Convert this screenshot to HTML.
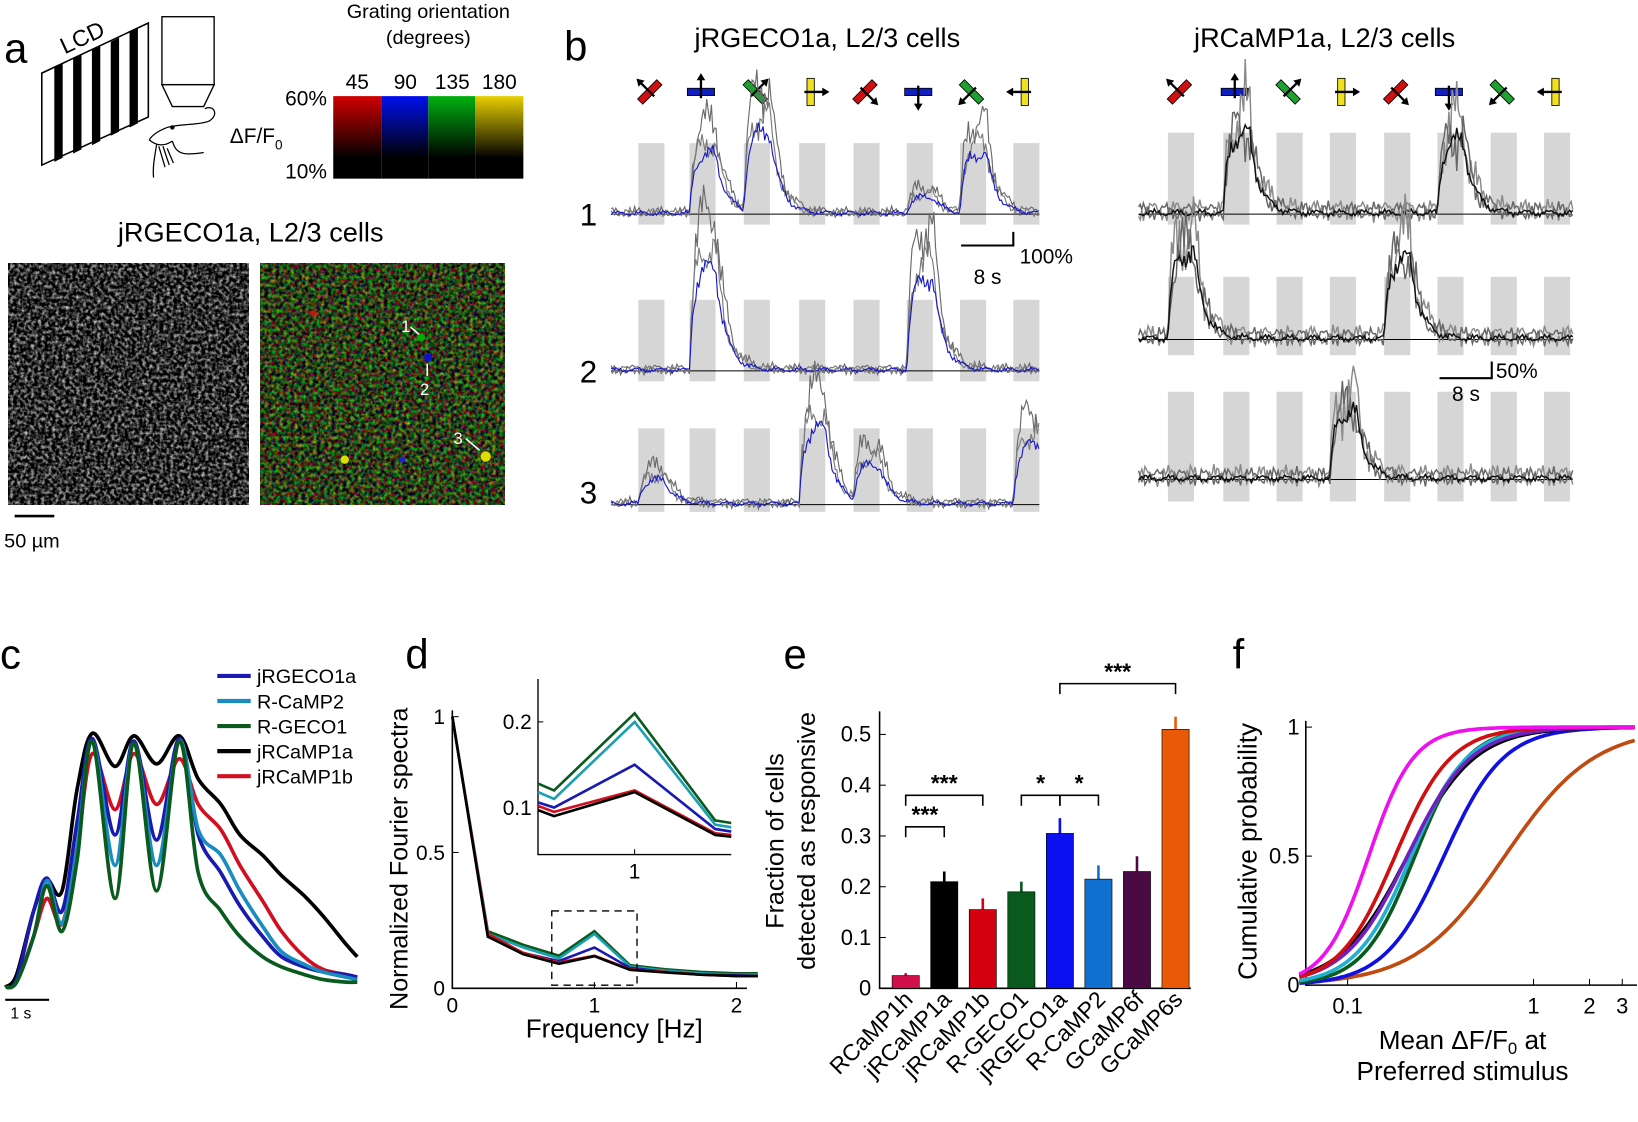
<!DOCTYPE html>
<html><head><meta charset="utf-8">
<style>
html,body{margin:0;padding:0;background:#fff;}
svg{display:block;font-family:"Liberation Sans",Arial,sans-serif;}
</style></head>
<body>
<svg id="fig" width="1638" height="1122" viewBox="0 0 1568 1074" preserveAspectRatio="none" xmlns="http://www.w3.org/2000/svg">
<defs>
<filter id="grayimg" x="0" y="0" width="100%" height="100%" color-interpolation-filters="sRGB">
<feTurbulence type="fractalNoise" baseFrequency="0.3" numOctaves="2" seed="3"/>
<feColorMatrix type="matrix" values="1.6 0 0 0 -0.62  1.6 0 0 0 -0.62  1.6 0 0 0 -0.62  0 0 0 0 1"/>
</filter>
<filter id="colimg" x="0" y="0" width="100%" height="100%" color-interpolation-filters="sRGB">
<feTurbulence type="fractalNoise" baseFrequency="0.28" numOctaves="2" seed="7"/>
<feColorMatrix type="matrix" values="1.5 0 0 0 -0.58  0 1.5 0 0 -0.5  0 0 0.6 0 -0.2  0 0 0 0 1"/>
</filter>
<linearGradient id="gr" x1="0" y1="0" x2="0" y2="1"><stop offset="0" stop-color="#d00000"/><stop offset="0.75" stop-color="#000"/></linearGradient>
<linearGradient id="gb" x1="0" y1="0" x2="0" y2="1"><stop offset="0" stop-color="#0010ee"/><stop offset="0.75" stop-color="#000"/></linearGradient>
<linearGradient id="gg" x1="0" y1="0" x2="0" y2="1"><stop offset="0" stop-color="#00b010"/><stop offset="0.75" stop-color="#000"/></linearGradient>
<linearGradient id="gy" x1="0" y1="0" x2="0" y2="1"><stop offset="0" stop-color="#e8d000"/><stop offset="0.75" stop-color="#000"/></linearGradient>
</defs>

<!-- Panel a -->
<g>
<text x="4" y="60" font-size="40">a</text>
<g>
<polygon points="40,70 142,22 142,112 40,158" fill="#fff" stroke="#000" stroke-width="1.5"/>
<g fill="#000">
<polygon points="52,65 60,61 60,151 52,155"/><polygon points="70,56 78,52 78,143 70,147"/>
<polygon points="88,48 96,44 96,135 88,139"/><polygon points="106,40 114,36 114,126 106,130"/>
<polygon points="124,31 132,27 132,118 124,122"/>
</g>
<text x="62" y="52" font-size="22" transform="rotate(-25 62 52)">LCD</text>
</g>
<g fill="none" stroke="#000" stroke-width="1.3">
<rect x="155" y="16" width="50" height="65"/><polygon points="155,81 205,81 195,102 165,102"/>
</g>
<g fill="none" stroke="#000" stroke-width="1.2">
<path d="M196,104 C205,100 210,110 200,116 C190,120 175,118 160,122 C150,126 145,130 143,134 C150,140 158,140 165,135"/>
<path d="M150,138 C148,150 146,160 147,170 M165,135 C168,145 172,150 195,146"/>
<path d="M152,140 L158,160 M156,140 L162,158 M160,142 L166,156"/>
<circle cx="165" cy="122" r="1.5" fill="#000"/>
</g>
<g>
<rect x="319" y="92" width="46" height="79" fill="url(#gr)"/>
<rect x="365" y="92" width="45" height="79" fill="url(#gb)"/>
<rect x="410" y="92" width="45" height="79" fill="url(#gg)"/>
<rect x="455" y="92" width="46" height="79" fill="url(#gy)"/>
</g>
<text x="410" y="17" font-size="19" text-anchor="middle">Grating orientation</text>
<text x="410" y="42" font-size="19" text-anchor="middle">(degrees)</text>
<g font-size="20" text-anchor="middle">
<text x="342" y="85">45</text><text x="388" y="85">90</text><text x="433" y="85">135</text><text x="478" y="85">180</text>
</g>
<text x="313" y="101" font-size="20" text-anchor="end">60%</text>
<text x="313" y="171" font-size="20" text-anchor="end">10%</text>
<text x="220" y="137" font-size="20">ΔF/F<tspan font-size="13" dy="6">0</tspan></text>
<text x="240" y="231" font-size="26" text-anchor="middle">jRGECO1a, L2/3 cells</text>
<g><rect x="8" y="252" width="230" height="231" fill="#111" filter="url(#grayimg)"/></g>
<g><rect x="249" y="252" width="234" height="231" fill="#121" filter="url(#colimg)"/>
<circle cx="403" cy="323" r="4" fill="#0a0"/><circle cx="410" cy="342" r="4" fill="#11c"/><circle cx="465" cy="437" r="5" fill="#dd0"/>
<circle cx="330" cy="440" r="4" fill="#dd0"/><circle cx="385" cy="440" r="3" fill="#22c"/><circle cx="300" cy="300" r="3" fill="#c11"/></g>
<g fill="#fff" font-size="16">
<text x="384" y="318">1</text><text x="402" y="378">2</text><text x="434" y="425">3</text>
</g>
<g stroke="#fff" stroke-width="1.5"><line x1="393" y1="313" x2="401" y2="320"/><line x1="409" y1="360" x2="409" y2="348"/><line x1="446" y1="420" x2="459" y2="431"/></g>
<line x1="14" y1="494" x2="52" y2="494" stroke="#000" stroke-width="2.5"/>
<text x="4" y="524" font-size="19">50 µm</text>
</g>

<!-- Panel b -->
<g id="panelB">
<text x="540" y="58" font-size="40">b</text>
<text x="792" y="45" font-size="26" text-anchor="middle">jRGECO1a, L2/3 cells</text>
<text x="1268" y="45" font-size="26" text-anchor="middle">jRCaMP1a, L2/3 cells</text>
<g font-size="30"><text x="555" y="216">1</text><text x="555" y="366">2</text><text x="555" y="482">3</text></g>
</g>

<!-- Panel c -->
<g id="panelC">
<text x="0" y="640" font-size="40">c</text>
<line x1="5" y1="957" x2="47" y2="957" stroke="#000" stroke-width="2"/>
<text x="10" y="975" font-size="15">1 s</text>
</g>

<!-- Panel d -->
<g id="panelD">
<text x="388" y="640" font-size="40">d</text>
<text font-size="24" text-anchor="middle" transform="translate(390 822) rotate(-90)">Normalized Fourier spectra</text>
<text x="588" y="993" font-size="25" text-anchor="middle">Frequency [Hz]</text>
</g>

<!-- Panel e -->
<g id="panelE">
<text x="750" y="640" font-size="40">e</text>
<text font-size="24" text-anchor="middle" transform="translate(750 805) rotate(-90)">Fraction of cells</text>
<text font-size="24" text-anchor="middle" transform="translate(780 805) rotate(-90)">detected as responsive</text>
</g>

<!-- Panel f -->
<g id="panelF">
<text x="1180" y="640" font-size="40">f</text>
<text font-size="25" text-anchor="middle" transform="translate(1203 815) rotate(-90)">Cumulative probability</text>
<text x="1400" y="1004" font-size="25" text-anchor="middle">Mean ΔF/F<tspan font-size="16" dy="5">0</tspan><tspan dy="-5"> at</tspan></text>
<text x="1400" y="1034" font-size="25" text-anchor="middle">Preferred stimulus</text>
</g>
</svg>

<script>
// ---------- DATA ----------
const stimColors = ['#d01010','#1020c0','#20a030','#f0e020','#d01010','#1020c0','#20a030','#f0e020'];
const stimArrowAngles = [-135,-90,-45,0,45,90,135,180];
const leftCell1 = [0,0.55,0.75,0,0,0.15,0.55,0];
const leftCell2 = [0,0.95,0,0,0,0.85,0,0];
const leftCell3 = [0.22,0,0,0.7,0.35,0,0,0.55];
const rightCell1 = [0,1.2,0,0,0,1.1,0,0];
const rightCell2 = [1.3,0,0,0,1.2,0,0,0];
const rightCell3 = [0,0,0,1.0,0,0,0,0];
// panel c
const cTimes = [0,0.3,0.75,1.1,1.5,1.9,2.3,2.9,3.4,4.0,4.6,5.1,5.7,6.2,6.8,7.3,7.9,8.4,9.0,9.3];
const cNames = ['jRGECO1a','R-CaMP2','R-GECO1','jRCaMP1a','jRCaMP1b'];
const cColors = ['#1a1ab0','#1a8cc0','#0a5a1e','#000000','#d01020'];
const cBlue  = [0,0.03,0.3,0.43,0.3,0.65,0.98,0.6,0.97,0.58,0.98,0.6,0.45,0.32,0.2,0.12,0.08,0.06,0.05,0.04];
const cTeal  = [0,0.02,0.2,0.42,0.25,0.55,0.97,0.48,0.96,0.48,0.97,0.62,0.52,0.38,0.24,0.14,0.09,0.06,0.04,0.03];
const cGreen = [0,0.02,0.2,0.4,0.22,0.5,0.97,0.35,0.96,0.38,0.97,0.45,0.3,0.2,0.12,0.08,0.05,0.03,0.02,0.02];
const cBlack = [0,0.05,0.3,0.42,0.38,0.78,1.0,0.87,0.99,0.88,0.99,0.82,0.72,0.6,0.52,0.44,0.36,0.28,0.17,0.12];
const cRed   = [0,0.02,0.2,0.35,0.25,0.55,0.92,0.7,0.92,0.72,0.9,0.72,0.62,0.48,0.34,0.22,0.12,0.07,0.05,0.04];
// panel d
const dFreq = [0,0.25,0.5,0.75,1.0,1.25,1.5,1.75,2.0,2.15];
const dGreen = [1,0.21,0.16,0.12,0.21,0.085,0.07,0.06,0.055,0.055];
const dTeal  = [1,0.2,0.15,0.11,0.20,0.08,0.065,0.055,0.05,0.05];
const dBlue  = [1,0.19,0.13,0.10,0.15,0.075,0.06,0.05,0.048,0.045];
const dRed   = [1,0.2,0.13,0.095,0.12,0.07,0.06,0.05,0.045,0.045];
const dBlack = [1,0.19,0.125,0.09,0.118,0.068,0.058,0.05,0.045,0.045];
const dColors = ['#0a5a1e','#1aa0b0','#1a1ab0','#d01020','#000000'];
const dXTicks = [0,1,2];
const dYTicks = [0,0.5,1];
const dInsetYTicks = [0.1,0.2];
// panel e
const eNames = ['RCaMP1h','jRCaMP1a','jRCaMP1b','R-GECO1','jRGECO1a','R-CaMP2','GCaMP6f','GCaMP6s'];
const eValues = [0.025,0.21,0.155,0.19,0.305,0.215,0.23,0.51];
const eErrors = [0.005,0.02,0.022,0.02,0.03,0.027,0.03,0.025];
const eColors = ['#d0104a','#000000','#d40010','#0a5a1e','#0a10f0','#1070d0','#4a0a44','#e85a08'];
const eYTicks = [0,0.1,0.2,0.3,0.4,0.5];
// panel f
const fMedians = [0.13,0.18,0.21,0.22,0.23,0.21,0.33,0.7];
const fSpreads = [0.12,0.15,0.17,0.15,0.14,0.18,0.16,0.24];
const fColors = ['#ee10ee','#d01010','#7020c0','#20b0d0','#0a5a1e','#000000','#1010e0','#c04a10'];
const fXTicks = [0.1,1,2,3];
const fYTicks = [0,0.5,1];

// ---------- HELPERS ----------
const NS='http://www.w3.org/2000/svg';
function mk(tag,attrs,parent){const e=document.createElementNS(NS,tag);for(const k in attrs)e.setAttribute(k,attrs[k]);parent.appendChild(e);return e;}
function smooth(pts){let d='M'+pts[0][0]+','+pts[0][1];for(let i=0;i<pts.length-1;i++){const p0=pts[Math.max(0,i-1)],p1=pts[i],p2=pts[i+1],p3=pts[Math.min(pts.length-1,i+2)];const c1=[p1[0]+(p2[0]-p0[0])/6,p1[1]+(p2[1]-p0[1])/6],c2=[p2[0]-(p3[0]-p1[0])/6,p2[1]-(p3[1]-p1[1])/6];d+=' C'+c1[0].toFixed(1)+','+c1[1].toFixed(1)+' '+c2[0].toFixed(1)+','+c2[1].toFixed(1)+' '+p2[0].toFixed(1)+','+p2[1].toFixed(1);}return d;}
function jit(i,s){return Math.sin(i*12.9898+s)*0.5+Math.sin(i*4.1+s*3)*0.3+Math.sin(i*27.7+s*7)*0.2;}

// ---------- PANEL B ----------
const pB=document.getElementById('panelB');
function stimIcon(cx,cy,k){
  const g=mk('g',{},pB);
  
  
  const a=stimArrowAngles[k];
  mk('rect',{x:cx-13,y:cy-3.5,width:26,height:7,fill:stimColors[k],stroke:'#000','stroke-width':0.8,transform:`rotate(${a+90} ${cx} ${cy})`},g);
  const r=a*Math.PI/180, ex=cx+14*Math.cos(r), ey=cy+14*Math.sin(r), sx=cx-6*Math.cos(r), sy=cy-6*Math.sin(r);
  mk('line',{x1:sx,y1:sy,x2:ex,y2:ey,stroke:'#000','stroke-width':2.2},g);
  const h1=r+2.6,h2=r-2.6, tx=ex+4*Math.cos(r), ty=ey+4*Math.sin(r);
  mk('polygon',{points:`${tx},${ty} ${tx+8*Math.cos(h1)},${ty+8*Math.sin(h1)} ${tx+8*Math.cos(h2)},${ty+8*Math.sin(h2)}`,fill:'#000'},g);
}
function traceBlock(x0,x1,barStarts,barW,barTop,barBot,base,amps,scale,isLeft,seed,name){
  const g=mk('g',{},pB);
  
  
  barStarts.forEach(bx=>{
    const r=mk('rect',{x:bx,y:barTop,width:barW,height:barBot-barTop,fill:'#d6d6d6'},g);
    
    
  });
  mk('line',{x1:x0,y1:base,x2:x1,y2:base,stroke:'#000','stroke-width':1},g);
  const n=Math.round((x1-x0)/1.5);
  function resp(x,mult){let v=0;barStarts.forEach((bx,k)=>{const A=amps[k]*scale*mult;if(!A)return;const t=x-bx;if(t>0&&t<=barW)v+=A*(1-Math.exp(-t/4));else if(t>barW)v+=A*(1-Math.exp(-barW/4))*Math.exp(-(t-barW)/10);});return v;}
  const layers=isLeft?[{c:'#6a6a6a',m:1.5,nz:6,s:seed},{c:'#7a7a7a',m:1.15,nz:5,s:seed+2},{c:'#1a1acc',m:1,nz:3,s:seed+5}]
                     :[{c:'#8a8a8a',m:1.15,nz:12,s:seed},{c:'#666',m:1.0,nz:10,s:seed+3},{c:'#111',m:1,nz:4,s:seed+6}];
  layers.forEach(L=>{
    let d='';
    for(let i=0;i<=n;i++){const x=x0+i*1.5;const r=resp(x,L.m);const y=base-r-L.nz*(0.3+jit(i,L.s))*(1+r/25);d+=(i?'L':'M')+x.toFixed(1)+','+y.toFixed(1);}
    const p=mk('path',{d:d,fill:'none',stroke:L.c,'stroke-width':isLeft?1.1:1.4},g);
    
    
  });
}
const leftBars=[611,660,712,765,817,868,919,970];
const rightBars=[1118,1171,1222,1273,1325,1376,1427,1478];
leftBars.forEach((bx,k)=>stimIcon(bx+11,88,k));
rightBars.forEach((bx,k)=>stimIcon(bx+11,88,k));
traceBlock(585,995,leftBars,25,137,215,205,leftCell1,100,true,1,'left-cell-1-traces');
traceBlock(585,995,leftBars,25,287,365,355,leftCell2,100,true,2,'left-cell-2-traces');
traceBlock(585,995,leftBars,25,410,490,483,leftCell3,100,true,3,'left-cell-3-traces');
traceBlock(1090,1505,rightBars,25,127,215,205,rightCell1,60,false,4,'right-cell-1-traces');
traceBlock(1090,1505,rightBars,25,265,340,325,rightCell2,60,false,5,'right-cell-2-traces');
traceBlock(1090,1505,rightBars,25,375,480,459,rightCell3,60,false,6,'right-cell-3-traces');
{
  const s1=mk('polyline',{points:'920,235 970,235 970,222',fill:'none',stroke:'#000','stroke-width':2},pB);
  
  
  const t1=mk('text',{x:976,y:252,'font-size':20},pB);t1.textContent='100%';
  
  
  const t2=mk('text',{x:932,y:272,'font-size':20},pB);t2.textContent='8 s';
  
  
  const s2=mk('polyline',{points:'1378,362 1428,362 1428,346',fill:'none',stroke:'#000','stroke-width':2},pB);
  
  
  const t3=mk('text',{x:1432,y:362,'font-size':20},pB);t3.textContent='50%';
  
  
  const t4=mk('text',{x:1390,y:384,'font-size':20},pB);t4.textContent='8 s';
  
  
}

// ---------- PANEL C ----------
const pC=document.getElementById('panelC');
const cx=t=>5+t/9.3*337, cy=v=>945-v*243;
[cBlack,cRed,cBlue,cTeal,cGreen].forEach((arr,idx)=>{
  const ci=[3,4,0,1,2][idx];
  const p=mk('path',{d:smooth(arr.map((v,i)=>[cx(cTimes[i]),cy(v)])),fill:'none',stroke:cColors[ci],'stroke-width':3.5},pC);
  
  
});
cNames.forEach((nm,i)=>{
  const g=mk('g',{},pC);
  
  
  mk('line',{x1:208,y1:647+i*24,x2:240,y2:647+i*24,stroke:cColors[i],'stroke-width':4},g);
  const t=mk('text',{x:246,y:654+i*24,'font-size':19},g);t.textContent=nm;
});

// ---------- PANEL D ----------
const pD=document.getElementById('panelD');
const dx=f=>433+f*136, dy=v=>946-v*260;
mk('path',{d:`M433,680 L433,946 L715,946`,fill:'none',stroke:'#000','stroke-width':1.5},pD);
dXTicks.forEach(t=>{mk('line',{x1:dx(t),y1:946,x2:dx(t),y2:940,stroke:'#000'},pD);const e=mk('text',{x:dx(t),y:969,'font-size':20,'text-anchor':'middle'},pD);e.textContent=t;});
dYTicks.forEach(t=>{mk('line',{x1:433,y1:dy(t),x2:439,y2:dy(t),stroke:'#000'},pD);const e=mk('text',{x:426,y:dy(t)+7,'font-size':20,'text-anchor':'end'},pD);e.textContent=t;});
const dSeries=[dGreen,dTeal,dBlue,dRed,dBlack];
dSeries.forEach((arr,i)=>{
  const p=mk('polyline',{points:arr.map((v,k)=>dx(dFreq[k]).toFixed(1)+','+dy(v).toFixed(1)).join(' '),fill:'none',stroke:dColors[i],'stroke-width':2.5},pD);
  
  
});
mk('rect',{x:dx(0.7),y:872,width:dx(1.3)-dx(0.7),height:71,fill:'none',stroke:'#000','stroke-dasharray':'7,5','stroke-width':1.3},pD);
const ix=f=>515+(f-0.7)/0.6*185, iy=v=>691-(v-0.2)*820;
mk('path',{d:`M515,650 L515,818 L700,818`,fill:'none',stroke:'#000','stroke-width':1.3},pD);
dInsetYTicks.forEach(t=>{mk('line',{x1:515,y1:iy(t),x2:520,y2:iy(t),stroke:'#000'},pD);const e=mk('text',{x:509,y:iy(t)+7,'font-size':20,'text-anchor':'end'},pD);e.textContent=t;});
mk('line',{x1:ix(1),y1:818,x2:ix(1),y2:813,stroke:'#000'},pD);
{const e=mk('text',{x:ix(1),y:841,'font-size':20,'text-anchor':'middle'},pD);e.textContent='1';}
dSeries.forEach((arr,i)=>{
  const pts=[];dFreq.forEach((f,k)=>{if(f>=0.74&&f<=1.26)pts.push([ix(f),iy(arr[k])]);});
  pts.unshift([ix(0.7),iy(arr[3]+(arr[2]-arr[3])*0.2)]);
  pts.push([ix(1.3),iy(arr[5]-(arr[5]-arr[6])*0.2)]);
  const p=mk('polyline',{points:pts.map(q=>q[0].toFixed(1)+','+q[1].toFixed(1)).join(' '),fill:'none',stroke:dColors[i],'stroke-width':2.5},pD);
  
  
});

// ---------- PANEL E ----------
const pE=document.getElementById('panelE');
const ey0=946, eS=486, exC=i=>867+i*36.9, eBW=26;
const eY=v=>ey0-v*eS;
mk('path',{d:`M842,681 L842,946 L1140,946`,fill:'none',stroke:'#000','stroke-width':1.5},pE);
eYTicks.forEach(t=>{mk('line',{x1:842,y1:eY(t),x2:848,y2:eY(t),stroke:'#000'},pE);const e=mk('text',{x:834,y:eY(t)+7,'font-size':21,'text-anchor':'end'},pE);e.textContent=t;});
eValues.forEach((v,i)=>{
  mk('line',{x1:exC(i),y1:eY(v),x2:exC(i),y2:eY(v+eErrors[i]),stroke:eColors[i],'stroke-width':2.5},pE);
  const r=mk('rect',{x:exC(i)-eBW/2,y:eY(v),width:eBW,height:v*eS,fill:eColors[i],stroke:'#000','stroke-width':0.6},pE);
  
  
  const t=mk('text',{x:exC(i)+8,y:958,'font-size':22,'text-anchor':'end',transform:`rotate(-45 ${exC(i)+8} 958)`},pE);
  t.textContent=eNames[i];
  
  
});
function bracket(i,j,level,stars,drop){
  const y=eY(level),x1=exC(i),x2=exC(j);
  mk('path',{d:`M${x1},${y+drop} L${x1},${y} L${x2},${y} L${x2},${y+drop}`,fill:'none',stroke:'#000','stroke-width':1.5},pE);
  const t=mk('text',{x:(x1+x2)/2,y:y-4,'font-size':22,'font-weight':'bold','text-anchor':'middle'},pE);t.textContent=stars;
  
  
}
bracket(0,1,0.318,'***',10);
bracket(0,2,0.38,'***',10);
bracket(3,4,0.38,'*',10);
bracket(4,5,0.38,'*',10);
bracket(4,7,0.6,'***',10);

// ---------- PANEL F ----------
const pF=document.getElementById('panelF');
const fx=v=>1290+Math.log10(v/0.1)*178, fy=p=>943-p*247;
mk('path',{d:`M1250,690 L1250,943 L1567,943`,fill:'none',stroke:'#000','stroke-width':1.5},pF);
fXTicks.forEach(t=>{mk('line',{x1:fx(t),y1:943,x2:fx(t),y2:937,stroke:'#000'},pF);const e=mk('text',{x:fx(t),y:970,'font-size':21,'text-anchor':'middle'},pF);e.textContent=t;});
fYTicks.forEach(t=>{mk('line',{x1:1250,y1:fy(t),x2:1256,y2:fy(t),stroke:'#000'},pF);const e=mk('text',{x:1244,y:fy(t)+7,'font-size':21,'text-anchor':'end'},pF);e.textContent=t;});
const fOrder=[7,6,5,4,3,2,1,0];
fOrder.forEach(i=>{
  let d='';
  for(let k=0;k<=120;k++){const lx=Math.log10(0.055)+k/120*(Math.log10(3.5)-Math.log10(0.055));const p=1/(1+Math.exp(-(lx-Math.log10(fMedians[i]))/fSpreads[i]));d+=(k?'L':'M')+fx(Math.pow(10,lx)).toFixed(1)+','+fy(p).toFixed(1);}
  const p=mk('path',{d:d,fill:'none',stroke:fColors[i],'stroke-width':3.5},pF);
  
  
});
</script>
</body></html>
